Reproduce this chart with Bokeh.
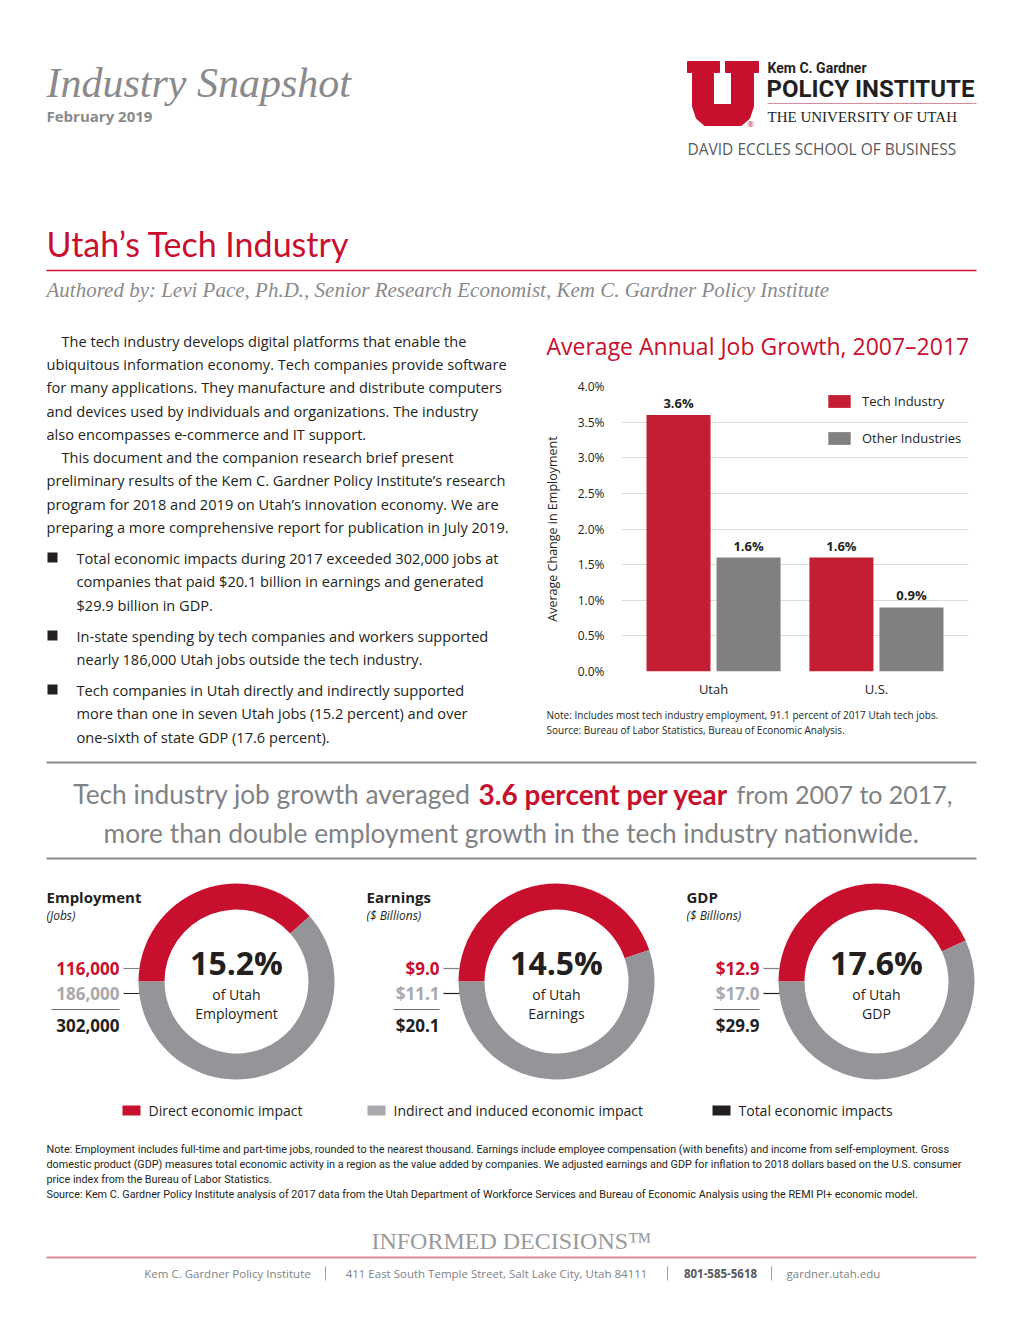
import math
from bokeh.plotting import figure
from bokeh.models import (Range1d, FactorRange, FixedTicker, NumeralTickFormatter,
                          ColumnDataSource, LabelSet, Legend, LegendItem)
from bokeh.transform import dodge
from bokeh.layouts import column, row
from bokeh.core.properties import value
from bokeh.embed import file_html
from bokeh.resources import INLINE

# ---------------- data ----------------
regions = ["Utah", "U.S."]
tech_growth = [0.036, 0.016]
other_growth = [0.016, 0.009]
growth_ticks = [0.0, 0.005, 0.01, 0.015, 0.02, 0.025, 0.03, 0.035, 0.04]
series_names = ["Tech Industry", "Other Industries"]

impact_names = ["Employment", "Earnings", "GDP"]
impact_units = ["(Jobs)", "($ Billions)", "($ Billions)"]
direct_impact = [116000, 9.0, 12.9]
indirect_impact = [186000, 11.1, 17.0]
total_impact = [302000, 20.1, 29.9]
share_of_state = [15.2, 14.5, 17.6]
impact_legend = ["Direct economic impact", "Indirect and induced economic impact", "Total economic impacts"]

para_lines = [
    "The tech industry develops digital platforms that enable the",
    "ubiquitous information economy. Tech companies provide software",
    "for many applications. They manufacture and distribute computers",
    "and devices used by individuals and organizations. The industry",
    "also encompasses e-commerce and IT support.",
    "This document and the companion research brief present",
    "preliminary results of the Kem C. Gardner Policy Institute\u2019s research",
    "program for 2018 and 2019 on Utah\u2019s innovation economy. We are",
    "preparing a more comprehensive report for publication in July 2019.",
]
bullets = [
    ["Total economic impacts during 2017 exceeded 302,000 jobs at",
     "companies that paid $20.1 billion in earnings and generated",
     "$29.9 billion in GDP."],
    ["In-state spending by tech companies and workers supported",
     "nearly 186,000 Utah jobs outside the tech industry."],
    ["Tech companies in Utah directly and indirectly supported",
     "more than one in seven Utah jobs (15.2 percent) and over",
     "one-sixth of state GDP (17.6 percent)."],
]
notes_lines = [
    "Note: Employment includes full-time and part-time jobs, rounded to the nearest thousand. Earnings include employee compensation (with benefits) and income from self-employment. Gross",
    "domestic product (GDP) measures total economic activity in a region as the value added by companies. We adjusted earnings and GDP for inflation to 2018 dollars based on the U.S. consumer",
    "price index from the Bureau of Labor Statistics.",
    "Source: Kem C. Gardner Policy Institute analysis of 2017 data from the Utah Department of Workforce Services and Bureau of Economic Analysis using the REMI PI+ economic model.",
]

# ---------------- styles ----------------
RED = "#c8102e"
BAR_RED = "#c41e32"
BAR_GREY = "#808080"
RING_GREY = "#939598"
LIGHT_GREY = "#a7a9ac"
DARK = "#231f20"
TXT_GREY = "#8a8a8c"
SANS = "Open Sans"


def canvas(x0, y0, w, h):
    p = figure(width=w, height=h, x_range=Range1d(x0, x0 + w), y_range=Range1d(y0 + h, y0),
               output_backend="svg", toolbar_location=None,
               x_axis_location=None, y_axis_location=None,
               min_border=0, outline_line_color=None)
    p.grid.visible = False
    return p


def txt(p, x, y, s, size, color=DARK, font=SANS, style="normal", align="left", baseline="middle"):
    p.text(x=[x], y=[y], text=[s], text_font=value(font), text_font_size=f"{size}px",
           text_color=color, text_font_style=style, text_align=align, text_baseline=baseline)


def hline(p, x0, x1, y, color, width=1.0):
    p.segment(x0=[x0], y0=[y], x1=[x1], y1=[y], line_color=color, line_width=width)


# ---------------- header ----------------
top = canvas(0, 0, 1004, 328)
txt(top, 46, 82, "Industry Snapshot", 42, TXT_GREY, "Liberation Serif", "italic")
txt(top, 46, 115, "February 2019", 15, TXT_GREY, style="bold")

logo_x = [687, 719, 719, 713, 713, 731, 731, 725, 725, 758, 758, 753, 753, 749, 741, 704, 696, 692, 692, 687]
logo_y = [61, 61, 72, 72, 104, 104, 72, 72, 61, 61, 72, 72, 106, 118, 125, 125, 118, 106, 72, 72]
top.patch(logo_x, logo_y, fill_color=RED, line_color=RED)
txt(top, 750, 123, "\u00ae", 8, RED, align="center")
txt(top, 767, 67, "Kem C. Gardner", 14, DARK, "Roboto", "bold")
txt(top, 766, 88, "POLICY INSTITUTE", 24, DARK, "Roboto", "bold")
hline(top, 767, 976, 103, "#dc8c98", 1)
txt(top, 767, 116, "THE UNIVERSITY OF UTAH", 15, DARK, "Liberation Serif")
txt(top, 687, 148, "DAVID ECCLES SCHOOL OF BUSINESS", 15.5, "#58595b")

txt(top, 46, 243, "Utah\u2019s Tech Industry", 34, RED, "Lato")
hline(top, 46, 976, 270, RED, 1.3)
txt(top, 46, 289, "Authored by: Levi Pace, Ph.D., Senior Research Economist, Kem C. Gardner Policy Institute",
    21, TXT_GREY, "Liberation Serif", "italic")

# ---------------- left text column ----------------
left = canvas(0, 328, 530, 422)
para_y = [340, 363, 386, 410, 433, 456, 479, 503, 526]
para_x = [61, 46, 46, 46, 46, 61, 46, 46, 46]
for x, y, s in zip(para_x, para_y, para_lines):
    txt(left, x, y, s, 14.6, DARK)
bullet_y = [[557, 580, 604], [635, 658], [689, 712, 736]]
for lines, ys in zip(bullets, bullet_y):
    left.rect(x=[52], y=[ys[0]], width=10, height=10, fill_color=DARK, line_color=None)
    for s, y in zip(lines, ys):
        txt(left, 76, y, s, 14.6, DARK)

# ---------------- chart ----------------
ctitle = canvas(530, 328, 474, 42)
txt(ctitle, 546, 345, "Average Annual Job Growth, 2007\u20132017", 23, RED)

chart = figure(width=474, height=330,
               x_range=FactorRange(factors=regions, range_padding=0.065, range_padding_units="absolute"),
               y_range=Range1d(0, 0.04), output_backend="svg", toolbar_location=None,
               min_border_left=91, min_border_right=36, min_border_top=16, min_border_bottom=28,
               outline_line_color=None)
src = ColumnDataSource(dict(region=regions, tech=tech_growth, other=other_growth,
                            tech_lbl=[f"{v * 100:.1f}%" for v in tech_growth],
                            other_lbl=[f"{v * 100:.1f}%" for v in other_growth]))
r_tech = chart.vbar(x=dodge("region", -0.215, range=chart.x_range), top="tech", width=0.393,
                    source=src, fill_color=BAR_RED, line_color=None)
r_other = chart.vbar(x=dodge("region", 0.215, range=chart.x_range), top="other", width=0.393,
                     source=src, fill_color=BAR_GREY, line_color=None)
for off, col in ((-0.215, "tech"), (0.215, "other")):
    chart.add_layout(LabelSet(x=dodge("region", off, range=chart.x_range), y=col, text=col + "_lbl",
                              source=src, text_align="center", text_baseline="bottom", y_offset=3,
                              text_font=value(SANS), text_font_size="13px", text_font_style="bold",
                              text_color=DARK))
legend = Legend(items=[LegendItem(label=series_names[0], renderers=[r_tech]),
                       LegendItem(label=series_names[1], renderers=[r_other])],
                location=(204, 224), glyph_width=28, glyph_height=16, label_height=16,
                label_standoff=9, spacing=19, padding=0, margin=0,
                border_line_color=None, background_fill_alpha=0,
                label_text_font=SANS, label_text_font_size="13px", label_text_color=DARK)
chart.add_layout(legend)

chart.xgrid.visible = False
chart.ygrid.grid_line_color = "#dcdcdc"
chart.yaxis.ticker = FixedTicker(ticks=growth_ticks)
chart.yaxis.formatter = NumeralTickFormatter(format="0.0%")
chart.yaxis.axis_label = "Average Change in Employment"
chart.yaxis.axis_label_text_font = SANS
chart.yaxis.axis_label_text_font_style = "normal"
chart.yaxis.axis_label_text_font_size = "12.5px"
chart.yaxis.axis_label_text_color = DARK
chart.yaxis.axis_label_standoff = 14
chart.yaxis.major_label_standoff = 17
for ax in (chart.xaxis, chart.yaxis):
    ax.axis_line_color = None
    ax.major_tick_line_color = None
    ax.minor_tick_line_color = None
    ax.major_tick_out = 0
    ax.major_tick_in = 0
    ax.major_label_text_font = SANS
    ax.major_label_text_color = DARK
chart.yaxis.major_label_text_font_size = "12px"
chart.xaxis.major_label_text_font_size = "13px"
chart.xaxis.major_label_standoff = 8

cnotes = canvas(530, 700, 474, 50)
txt(cnotes, 546, 714, "Note: Includes most tech industry employment, 91.1 percent of 2017 Utah tech jobs.", 10, DARK)
txt(cnotes, 546, 729, "Source: Bureau of Labor Statistics, Bureau of Economic Analysis.", 10, DARK)

# ---------------- bottom section ----------------
bot = canvas(0, 750, 1004, 554)
hline(bot, 46, 976, 762, "#8c8c8c", 2)
hline(bot, 46, 976, 858, "#8c8c8c", 2)
CALL_GREY = "#808285"
txt(bot, 470, 793, "Tech industry job growth averaged", 26.3, CALL_GREY, "Lato", align="right")
txt(bot, 603, 793, "3.6 percent per year", 28, RED, "Lato", "bold", align="center")
txt(bot, 736, 793, "from 2007 to 2017,", 25, CALL_GREY, "Lato")
txt(bot, 511, 832, "more than double employment growth in the tech industry nationwide.", 26.3, CALL_GREY,
    "Lato", align="center")

centers = [236, 556, 876]
lefts = [46, 366, 686]
cy = 981
for i in range(3):
    cx = centers[i]
    sweep = 2 * math.pi * direct_impact[i] / total_impact[i]
    bot.annular_wedge(x=[cx], y=[cy], inner_radius=72, outer_radius=98,
                      start_angle=[math.pi], end_angle=[math.pi - sweep], direction="clock",
                      fill_color=RED, line_color=None)
    bot.annular_wedge(x=[cx], y=[cy], inner_radius=72, outer_radius=98,
                      start_angle=[math.pi - sweep], end_angle=[math.pi], direction="clock",
                      fill_color=RING_GREY, line_color=None)
    if i == 0:
        fmt = lambda v: f"{v:,.0f}"
    else:
        fmt = lambda v: f"${v:.1f}"
    lx = lefts[i]
    rx = cx - 117
    txt(bot, lx, 896, impact_names[i], 15, DARK, style="bold")
    txt(bot, lx, 915, impact_units[i], 12, DARK, style="italic")
    txt(bot, rx, 968, fmt(direct_impact[i]), 17, RED, style="bold", align="right")
    txt(bot, rx, 993, fmt(indirect_impact[i]), 17, LIGHT_GREY, style="bold", align="right")
    txt(bot, rx, 1025, fmt(total_impact[i]), 17, DARK, style="bold", align="right")
    hline(bot, rx + 4, cx - 97, 968, "#808080", 1.2)
    hline(bot, rx + 4, cx - 97, 993, DARK, 1.2)
    sep_w = 68 if i == 0 else 46
    hline(bot, rx - sep_w, rx, 1009, "#6d6e71", 1)
    txt(bot, cx, 962, f"{share_of_state[i]:.1f}%", 32, DARK, style="bold", align="center")
    txt(bot, cx, 994, "of Utah", 14, DARK, align="center")
    txt(bot, cx, 1013, impact_names[i], 14, DARK, align="center")

leg_x = [122, 367, 712]
leg_colors = [RED, LIGHT_GREY, DARK]
for x, c, s in zip(leg_x, leg_colors, impact_legend):
    bot.rect(x=[x + 9], y=[1110], width=18, height=10, fill_color=c, line_color=None)
    txt(bot, x + 26, 1110, s, 14, DARK)

for j, s in enumerate(notes_lines):
    txt(bot, 46, 1149 + 15 * j, s, 10.8, DARK, "Roboto")

txt(bot, 511, 1240, "INFORMED DECISIONS\u2122", 24, "#9a9a9c", "Liberation Serif", align="center")
hline(bot, 46, 976, 1257, "#e08a96", 2)
FOOT_GREY = "#808285"
txt(bot, 227, 1273, "Kem C. Gardner Policy Institute", 11.5, FOOT_GREY, align="center")
txt(bot, 496, 1273, "411 East South Temple Street, Salt Lake City, Utah 84111", 11.5, FOOT_GREY, align="center")
txt(bot, 720, 1273, "801-585-5618", 11.5, "#58595b", style="bold", align="center")
txt(bot, 833, 1273, "gardner.utah.edu", 11.5, FOOT_GREY, align="center")
bot.segment(x0=[325, 667, 771], y0=[1266] * 3, x1=[325, 667, 771], y1=[1280] * 3,
            line_color="#a0a0a0", line_width=1)

right = column(column(ctitle), column(chart), column(cnotes))
layout = column(top, row(left, right), bot)
open("out.html", "w").write(file_html(layout, INLINE))
